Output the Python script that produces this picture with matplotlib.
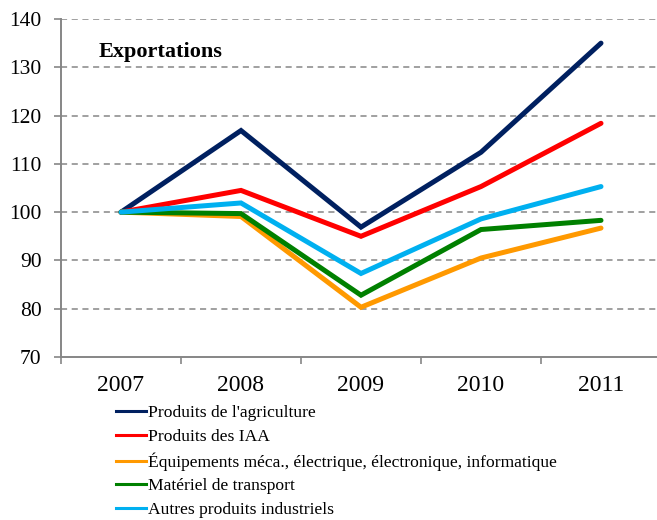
import matplotlib.pyplot as plt
from matplotlib.lines import Line2D

plt.rcParams['font.family'] = ['Liberation Serif', 'DejaVu Serif']

years = ["2007", "2008", "2009", "2010", "2011"]
agriculture = [100, 116.9, 96.9, 112.4, 135.0]
iaa = [100, 104.5, 95.0, 105.3, 118.4]
equipements = [100, 99.1, 80.3, 90.5, 96.7]
transport = [100, 99.7, 82.8, 96.4, 98.3]
autres = [100, 101.9, 87.3, 98.6, 105.3]

labels = ["Produits de l'agriculture", "Produits des IAA",
          "Équipements méca., électrique, électronique, informatique",
          "Matériel de transport", "Autres produits industriels"]
colors = ["#002060", "#FF0000", "#FF9900", "#008000", "#00B0F0"]
series = [agriculture, iaa, equipements, transport, autres]

fig = plt.figure(figsize=(6.57, 5.2), dpi=100)
ax = fig.add_axes([61 / 657, 1 - 357 / 520, 600 / 657, 338 / 520])

x = range(len(years))
for vals, col, lab in zip(series, colors, labels):
    ax.plot(x, vals, color=col, lw=3.6, solid_capstyle="round",
            solid_joinstyle="miter", label=lab)

ax.set_xlim(-0.5, 4.5)
ax.set_ylim(70, 140)
ax.set_yticks(range(70, 141, 10))
ax.set_xticks(list(x))
ax.set_xticklabels(years)
ax.set_xticks([i + 0.5 for i in range(-1, 5)], minor=True)
ax.tick_params(axis="x", which="major", length=0, pad=13, labelsize=17)
ax.tick_params(axis="x", which="minor", length=5, color="#868686", width=1.2)
ax.tick_params(axis="y", length=5, color="#868686", width=1.2, labelsize=15.5, pad=9)

for v in range(80, 141, 10):
    ax.axhline(v, color="#868686", lw=1.1, ls=(0, (4, 3)), zorder=0)

for s in ["top", "right"]:
    ax.spines[s].set_visible(False)
for s in ["left", "bottom"]:
    ax.spines[s].set_color("#868686")
    ax.spines[s].set_linewidth(1.4)

ax.text(0.063, 0.902, "Exportations", transform=ax.transAxes, fontsize=16,
        fontweight="bold", ha="left", va="center")

handles = [Line2D([], [], color=c, lw=2.2) for c in colors]
fig.legend(handles, labels, loc="upper left", bbox_to_anchor=(109 / 657, 1 - 398 / 520),
           frameon=False, fontsize=12.6, handlelength=1.7, handletextpad=0.1,
           labelspacing=0.42, borderaxespad=0)

fig.savefig("out.png", dpi=100)
